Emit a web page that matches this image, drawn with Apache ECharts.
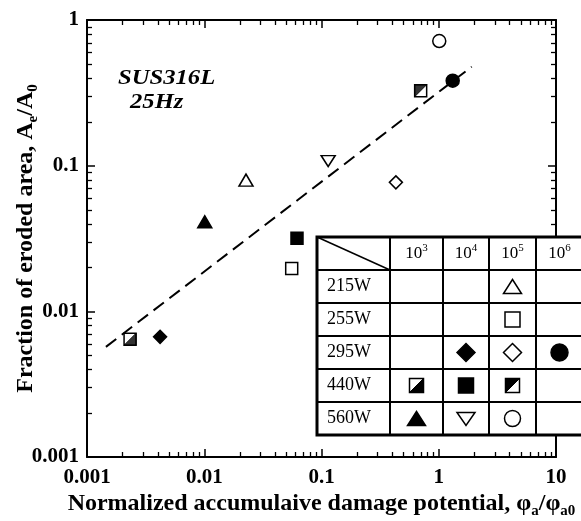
<!DOCTYPE html>
<html><head><meta charset="utf-8">
<script src="https://cdn.jsdelivr.net/npm/echarts@6/dist/echarts.min.js"></script>
<style>html,body{margin:0;padding:0;background:#fff}#c{width:581px;height:521px}</style>
</head><body><div id="c"></div>
<script>
// ---------- data ----------
const xTickLabels = [0.001, 0.01, 0.1, 1, 10];
const yTickLabels = [0.001, 0.01, 0.1, 1];
const powers = ['215W', '255W', '295W', '440W', '560W'];
const cycleExps = ['3', '4', '5', '6'];
// [phi_a/phi_a0, Ae/A0]
const p215_1e5 = [[0.0227, 0.0796]];
const p255_1e5 = [[0.0557, 0.0197]];
const p295_1e4 = [[0.0042, 0.00668]];
const p295_1e5 = [[0.431, 0.0768]];
const p295_1e6 = [[1.315, 0.383]];
const p440_1e3 = [[0.00233, 0.00644]];
const p440_1e4 = [[0.0618, 0.0317]];
const p440_1e5 = [[0.701, 0.327]];
const p560_1e3 = [[0.0101, 0.0412]];
const p560_1e4 = [[0.114, 0.1075]];
const p560_1e5 = [[1.01, 0.717]];
const fitLine = [[0.00145, 0.0057], [1.91, 0.478]];

// ---------- marker definitions (row = power index, col = cycle index) ----------
const markers = [
  {data: p215_1e5, row: 0, col: 2, shape: 'tri', filled: false},
  {data: p255_1e5, row: 1, col: 2, shape: 'rect', filled: false},
  {data: p295_1e4, row: 2, col: 1, shape: 'diamond', filled: true},
  {data: p295_1e5, row: 2, col: 2, shape: 'diamond', filled: false},
  {data: p295_1e6, row: 2, col: 3, shape: 'circle', filled: true},
  {data: p440_1e3, row: 3, col: 0, shape: 'halfLR', filled: false},
  {data: p440_1e4, row: 3, col: 1, shape: 'rect', filled: true},
  {data: p440_1e5, row: 3, col: 2, shape: 'halfUL', filled: false},
  {data: p560_1e3, row: 4, col: 0, shape: 'tri', filled: true},
  {data: p560_1e4, row: 4, col: 1, shape: 'invtri', filled: false},
  {data: p560_1e5, row: 4, col: 2, shape: 'circle', filled: false}
];

const FONT = 'Liberation Serif';
const symMap = {
  tri: {symbol: 'triangle', size: [14, 12]},
  invtri: {symbol: 'path://M0,0 L10,0 L5,9 Z', size: [14, 11]},
  rect: {symbol: 'rect', size: [12, 12]},
  diamond: {symbol: 'diamond', size: [13, 13]},
  circle: {symbol: 'circle', size: [13, 13]},
  halfLR: {symbol: 'rect', size: [12, 12]},
  halfUL: {symbol: 'rect', size: [12, 12]}
};

const series = [];
series.push({
  type: 'line', data: fitLine, symbol: 'none', silent: true, z: 2,
  lineStyle: {color: '#000', width: 2, type: [13, 7]}
});
markers.forEach(m => {
  const s = symMap[m.shape];
  series.push({
    type: 'scatter', data: m.data, symbol: s.symbol, symbolSize: s.size, z: 3,
    itemStyle: {color: m.filled ? '#000' : '#fff', borderColor: '#000', borderWidth: 1.5, opacity: 1}
  });
  if (m.shape === 'halfLR' || m.shape === 'halfUL') {
    series.push({
      type: 'scatter', data: m.data, z: 4,
      symbol: m.shape === 'halfLR' ? 'path://M10,0 L10,10 L0,10 Z' : 'path://M0,0 L10,0 L0,10 Z',
      symbolSize: s.size, itemStyle: {color: '#000', borderColor: '#000', borderWidth: 1}
    });
  }
});

// minor ticks (2..9 x decade)
const minorData = [];
for (let e = -3; e <= 0; e++) for (let k = 2; k <= 9; k++) minorData.push([k * Math.pow(10, e), 0.5, 0]);
for (let e = -3; e <= -1; e++) for (let k = 2; k <= 9; k++) minorData.push([0.5, k * Math.pow(10, e), 1]);
series.push({
  type: 'custom', data: minorData, silent: true, z: 5, clip: false,
  renderItem: function (params, api) {
    const cs = params.coordSys;
    const st = {stroke: '#000', lineWidth: 1.3};
    if (api.value(2) === 0) {
      const x = Math.round(api.coord([api.value(0), 0.5])[0]) + 0.5;
      const b = cs.y + cs.height, t = cs.y;
      return {type: 'group', children: [
        {type: 'line', shape: {x1: x, y1: b, x2: x, y2: b - 5}, style: st},
        {type: 'line', shape: {x1: x, y1: t, x2: x, y2: t + 5}, style: st}
      ]};
    } else {
      const y = Math.round(api.coord([0.5, api.value(1)])[1]) + 0.5;
      const l = cs.x, r = cs.x + cs.width;
      return {type: 'group', children: [
        {type: 'line', shape: {x1: l, y1: y, x2: l + 5, y2: y}, style: st},
        {type: 'line', shape: {x1: r, y1: y, x2: r - 5, y2: y}, style: st}
      ]};
    }
  }
});

const fmt = v => String(+(+v).toPrecision(3));
const lblStyle = {color: '#000', fontFamily: FONT, fontWeight: 'bold', fontSize: 21};
const lineStyle = {color: '#000', width: 2};
const tick = {inside: true, length: 8, lineStyle: {color: '#000', width: 1.5}};
const subRich = {
  sub: {fontFamily: FONT, fontWeight: 'bold', fontSize: 15, color: '#000', verticalAlign: 'bottom', lineHeight: 14}
};
const nameStyle = {color: '#000', fontFamily: FONT, fontWeight: 'bold', fontSize: 24, lineHeight: 30, rich: subRich};

function xAxisDef(pos, main) {
  return {
    type: 'log', logBase: 10, min: 0.001, max: 10, position: pos,
    axisLine: {show: true, onZero: false, lineStyle},
    axisTick: tick, splitLine: {show: false}, minorTick: {show: false},
    axisLabel: main ? Object.assign({formatter: fmt, margin: 10, showMinLabel: true, showMaxLabel: true}, lblStyle) : {show: false},
    name: main ? 'Normalized accumulaive damage potential, φ{sub|a}/φ{sub|a0}' : '',
    nameLocation: 'middle', nameGap: 32, nameMoveOverlap: false,
    nameTextStyle: nameStyle
  };
}
function yAxisDef(pos, main) {
  return {
    type: 'log', logBase: 10, min: 0.001, max: 1, position: pos,
    axisLine: {show: true, onZero: false, lineStyle},
    axisTick: tick, splitLine: {show: false}, minorTick: {show: false},
    axisLabel: main ? Object.assign({formatter: fmt, margin: 8, showMinLabel: true, showMaxLabel: true}, lblStyle) : {show: false},
    name: main ? 'Fraction of eroded area, A{sub|e}/A{sub|0}' : '',
    nameLocation: 'middle', nameGap: 46, nameMoveOverlap: false,
    nameTextStyle: nameStyle
  };
}

// ---------- legend table (graphic) ----------
const colX = [317, 390, 443, 489, 536, 583];
const rowY = [237, 270, 303, 336, 369, 402, 435];
const g = [];
g.push({type: 'rect', z: 100, shape: {x: colX[0], y: rowY[0], width: colX[5] - colX[0], height: rowY[6] - rowY[0]},
  style: {fill: '#fff', stroke: null}});
for (let i = 1; i < rowY.length - 1; i++)
  g.push({type: 'line', z: 101, shape: {x1: colX[0], y1: rowY[i], x2: colX[5], y2: rowY[i]}, style: {stroke: '#000', lineWidth: 2}});
for (let j = 1; j < colX.length - 1; j++)
  g.push({type: 'line', z: 101, shape: {x1: colX[j], y1: rowY[0], x2: colX[j], y2: rowY[6]}, style: {stroke: '#000', lineWidth: 2}});
g.push({type: 'rect', z: 102, shape: {x: colX[0], y: rowY[0], width: colX[5] - colX[0], height: rowY[6] - rowY[0]},
  style: {fill: null, stroke: '#000', lineWidth: 3}});
g.push({type: 'line', z: 101, shape: {x1: colX[0], y1: rowY[0], x2: colX[1], y2: rowY[1]}, style: {stroke: '#000', lineWidth: 1.5}});
cycleExps.forEach((e, j) => {
  g.push({type: 'text', z: 103, x: (colX[j + 1] + colX[j + 2]) / 2, y: (rowY[0] + rowY[1]) / 2,
    style: {text: '10{sup|' + e + '}', align: 'center', verticalAlign: 'middle', fill: '#000',
      font: '17px "' + FONT + '"', lineHeight: 22,
      rich: {sup: {fontFamily: FONT, fontSize: 11, fill: '#000', verticalAlign: 'top', lineHeight: 12}}}});
});
powers.forEach((p, i) => {
  g.push({type: 'text', z: 103, x: 327, y: (rowY[i + 1] + rowY[i + 2]) / 2,
    style: {text: p, align: 'left', verticalAlign: 'middle', fill: '#000', font: '18px "' + FONT + '"'}});
});
markers.forEach(m => {
  const cx = (colX[m.col + 1] + colX[m.col + 2]) / 2;
  const cy = (rowY[m.row + 1] + rowY[m.row + 2]) / 2;
  const st = {fill: m.filled ? '#000' : '#fff', stroke: '#000', lineWidth: 1.5};
  const z = 104;
  if (m.shape === 'tri') {
    g.push({type: 'polygon', z, shape: {points: [[cx, cy - 7], [cx + 9, cy + 7], [cx - 9, cy + 7]]}, style: st});
  } else if (m.shape === 'invtri') {
    g.push({type: 'polygon', z, shape: {points: [[cx - 9, cy - 6], [cx + 9, cy - 6], [cx, cy + 7]]}, style: st});
  } else if (m.shape === 'rect') {
    g.push({type: 'rect', z, shape: {x: cx - 7.5, y: cy - 7.5, width: 15, height: 15}, style: st});
  } else if (m.shape === 'diamond') {
    g.push({type: 'polygon', z, shape: {points: [[cx, cy - 9], [cx + 9, cy], [cx, cy + 9], [cx - 9, cy]]}, style: st});
  } else if (m.shape === 'circle') {
    g.push({type: 'circle', z, shape: {cx, cy, r: m.filled ? 8.5 : 8}, style: st});
  } else {
    g.push({type: 'rect', z, shape: {x: cx - 7, y: cy - 7, width: 14, height: 14}, style: st});
    const pts = m.shape === 'halfLR' ? [[cx + 7, cy - 7], [cx + 7, cy + 7], [cx - 7, cy + 7]]
                                     : [[cx - 7, cy - 7], [cx + 7, cy - 7], [cx - 7, cy + 7]];
    g.push({type: 'polygon', z: z + 1, shape: {points: pts}, style: {fill: '#000', stroke: '#000', lineWidth: 1}});
  }
});
g.push({type: 'text', z: 50, x: 118, y: 67, scaleX: 1.12, style: {text: 'SUS316L', fill: '#000', font: 'italic bold 22px "' + FONT + '"'}});
g.push({type: 'text', z: 50, x: 130, y: 91, scaleX: 1.12, style: {text: '25Hz', fill: '#000', font: 'italic bold 22px "' + FONT + '"'}});

const chart = echarts.init(document.getElementById('c'), null, {renderer: 'canvas'});
chart.setOption({
  backgroundColor: '#fff',
  animation: false,
  grid: {left: 87, right: 25, top: 20, bottom: 64, containLabel: false, outerBoundsMode: 'none'},
  xAxis: [xAxisDef('bottom', true), xAxisDef('top', false)],
  yAxis: [yAxisDef('left', true), yAxisDef('right', false)],
  series: series,
  graphic: g
});
</script></body></html>
